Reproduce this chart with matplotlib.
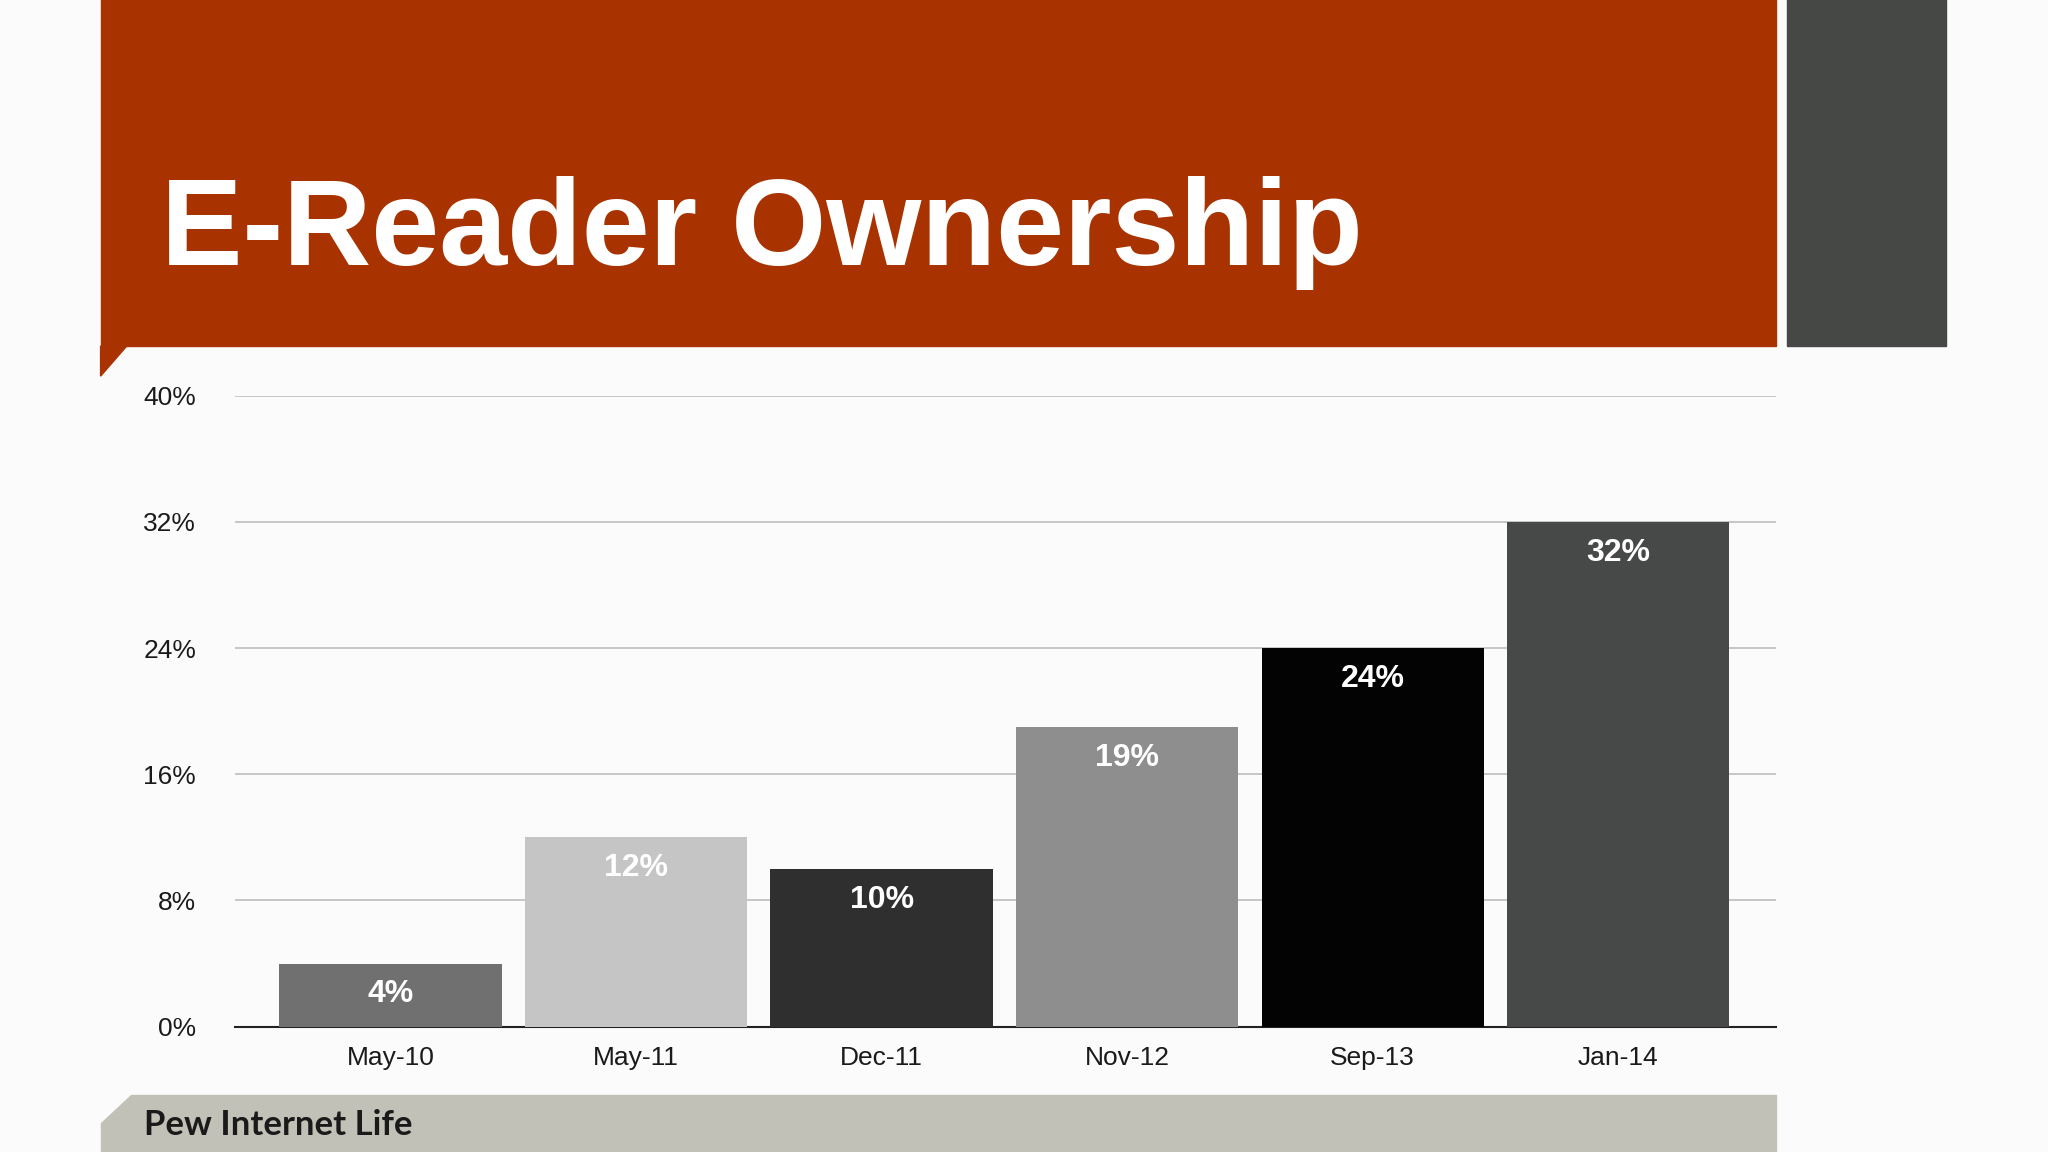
import matplotlib
matplotlib.use("Agg")
import matplotlib.pyplot as plt
from matplotlib.patches import Rectangle, Polygon

categories = ["May-10", "May-11", "Dec-11", "Nov-12", "Sep-13", "Jan-14"]
values = [4, 12, 10, 19, 24, 32]
bar_colors = ["#707070", "#C4C5C4", "#2E2F2E", "#8E8E8E", "#030303", "#474848"]
yticks = [0, 8, 16, 24, 32, 40]
title = "E-Reader Ownership"
footer = "Pew Internet Life"

W, H = 1568, 882
fig = plt.figure(figsize=(20.48, 11.52), dpi=100)
fig.patch.set_facecolor("#FBFBFB")

def fx(x): return x / W
def fy(y): return 1 - y / H

# header blocks
fig.patches.append(Rectangle((fx(77), fy(265)), fx(1360) - fx(77), 1 - fy(265) + 0.01,
                             transform=fig.transFigure, color="#A83300", zorder=0))
fig.patches.append(Polygon([(fx(77), fy(265)), (fx(97), fy(265)), (fx(77), fy(288))],
                           transform=fig.transFigure, color="#A83300", zorder=0))
fig.patches.append(Rectangle((fx(1368), fy(265)), fx(1490) - fx(1368), 1 - fy(265) + 0.01,
                             transform=fig.transFigure, color="#454845", zorder=0))
fig.text(fx(123), fy(203), title, color="white", fontsize=88, fontweight="bold",
         family="Liberation Sans", va="baseline", ha="left")

# footer
fig.patches.append(Polygon([(fx(100), fy(838)), (fx(1360), fy(838)), (fx(1360), 0),
                            (fx(77), 0), (fx(77), fy(860))],
                           transform=fig.transFigure, color="#C2C1B8", zorder=0))
fig.text(fx(110), fy(861), footer, color="#1A1A1A", fontsize=25, fontweight="bold",
         family="Lato", va="center", ha="left")

ax = fig.add_axes([fx(180), fy(786), fx(1360) - fx(180), fy(303) - fy(786)])
ax.set_facecolor("none")
x = list(range(len(categories)))
ax.bar(x, values, width=0.905, color=bar_colors, zorder=3)
for xi, v in zip(x, values):
    ax.text(xi, v - 1.0, f"{v}%", ha="center", va="top", color="white",
            fontsize=23, fontweight="bold", family="Liberation Sans", zorder=4)
ax.set_xlim(-0.633, 5.644)
ax.set_ylim(0, 40)
ax.set_yticks(yticks)
ax.set_yticklabels([f"{t}%" for t in yticks])
ax.set_xticks(x)
ax.set_xticklabels(categories)
ax.tick_params(length=0, labelsize=19, colors="#1A1A1A", pad=14)
for lab in ax.get_xticklabels() + ax.get_yticklabels():
    lab.set_family("Liberation Sans")
ax.tick_params(axis="y", pad=28)
ax.grid(axis="y", color="#BDBDBD", linewidth=1.2, zorder=0)
for s in ["top", "right", "left"]:
    ax.spines[s].set_visible(False)
ax.spines["bottom"].set_color("#222222")
ax.spines["bottom"].set_linewidth(1.5)

fig.savefig("out.png", dpi=100, facecolor=fig.get_facecolor())
